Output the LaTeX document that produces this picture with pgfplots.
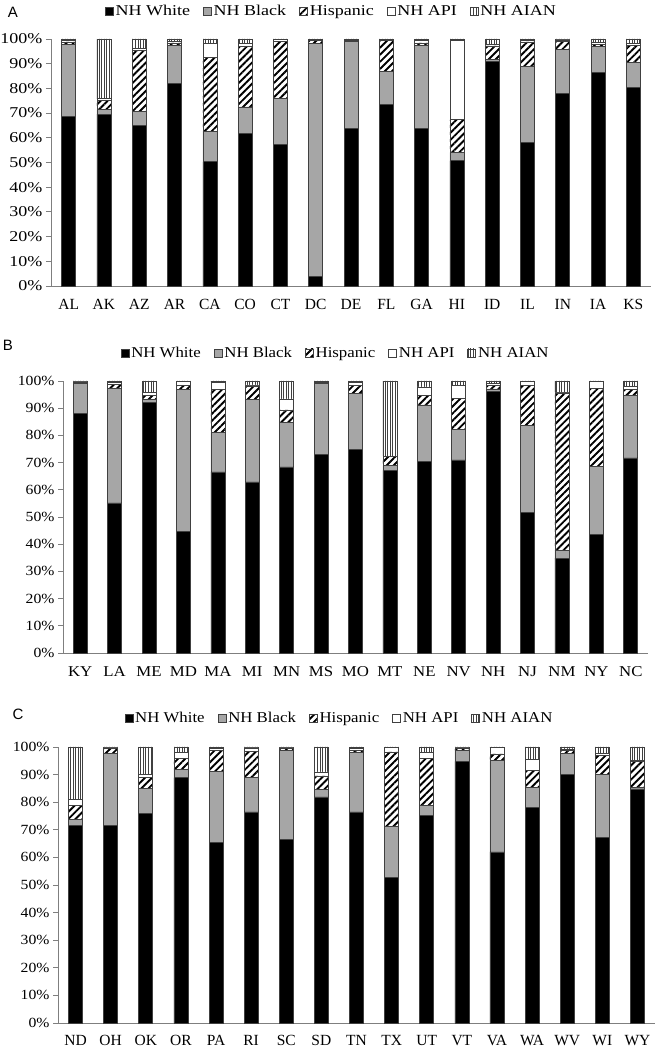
\documentclass[border=0pt]{standalone}
\usepackage{fontspec}
\setmainfont{Liberation Serif}
\newfontfamily\wideA{Liberation Serif}[FakeStretch=1.2]
\newfontfamily\wideB{Liberation Serif}[FakeStretch=1.12]
\newfontfamily\panelfont{Liberation Sans}
\usepackage{pgfplots}
\usepackage{pgfplotstable}
\pgfplotsset{compat=1.18}
\usetikzlibrary{patterns.meta}

\definecolor{bargray}{HTML}{A6A6A6}
\definecolor{edge}{HTML}{404040}
\definecolor{axisgray}{HTML}{7F7F7F}

\pgfplotstableread{
x W B H P I
0 68.6 29.2 1.0 0.5 0.7
1 69.6 1.8 3.6 0.8 24.2
2 64.9 5.7 24.7 0.8 3.9
3 81.9 15.5 1.0 0.6 1.0
4 50.3 12.3 30.0 5.6 1.8
5 61.7 10.8 24.5 1.1 1.9
6 57.2 18.8 22.9 0.8 0.3
7 4.0 94.1 1.2 0.4 0.3
8 63.8 35.1 0.5 0.3 0.3
9 73.5 13.5 12.3 0.4 0.3
10 63.8 33.6 1.0 0.9 0.7
11 50.7 3.4 13.2 32.0 0.7
12 91.0 0.6 5.6 0.6 2.2
13 58.0 30.9 9.9 0.7 0.5
14 77.9 18.0 3.2 0.5 0.4
15 86.6 10.4 0.7 1.0 1.3
16 80.3 10.3 6.7 0.9 1.8
}\dataA

\pgfplotstableread{
x W B H P I
0 88.1 11.0 0.4 0.2 0.3
1 55.2 42.2 1.4 0.6 0.6
2 92.1 1.0 1.5 1.3 4.1
3 44.8 52.1 1.4 1.5 0.2
4 66.6 14.5 15.7 2.8 0.4
5 62.9 30.3 5.0 0.4 1.4
6 68.4 16.4 4.6 4.0 6.6
7 72.9 26.2 0.3 0.2 0.4
8 74.8 20.7 2.9 1.0 0.6
9 67.1 1.8 3.3 0.2 27.6
10 70.3 20.9 3.4 3.2 2.2
11 71.0 11.3 11.4 4.8 1.5
12 96.2 0.9 1.3 0.7 0.9
13 51.8 31.9 14.8 1.3 0.2
14 34.9 2.9 57.8 0.2 4.2
15 43.7 24.9 28.6 2.6 0.2
16 71.7 23.0 2.1 1.1 2.1
}\dataB

\pgfplotstableread{
x W B H P I
0 71.6 2.1 5.1 2.3 18.9
1 71.6 26.2 1.6 0.3 0.3
2 75.9 9.2 3.8 1.1 10.0
3 88.9 3.1 4.0 2.0 2.0
4 65.4 25.8 7.6 0.7 0.5
5 76.5 12.4 9.4 1.4 0.3
6 66.5 32.3 0.7 0.2 0.3
7 81.9 2.8 4.8 1.5 9.0
8 76.5 21.5 0.8 0.6 0.6
9 52.8 18.3 27.1 1.6 0.2
10 75.2 3.5 17.1 2.3 1.9
11 94.8 4.0 0.7 0.2 0.3
12 62.0 33.1 2.4 2.3 0.2
13 78.1 7.3 6.2 3.8 4.6
14 90.0 7.8 1.0 0.5 0.7
15 67.3 22.7 6.9 0.7 2.4
16 84.8 0.5 9.6 0.3 4.8
}\dataC

\pgfplotsset{
  panel/.style={
    scale only axis,
    ybar stacked,
    bar width=14pt,
    xmin=-0.5, xmax=16.5,
    ymin=0, ymax=100,
    axis lines*=left,
    axis line style={draw=axisgray, line width=0.8pt},
    tick style={draw=axisgray, line width=0.8pt},
    tick align=outside,
    major tick length=5pt,
    minor tick length=6pt,
    xtick={0,...,16},
    xtick style={draw=none},
    minor xtick={-0.5,0.5,...,16.5},
    ytick={0,10,...,100},
    yticklabels={0\%,10\%,20\%,30\%,40\%,50\%,60\%,70\%,80\%,90\%,100\%},
    clip=false,
    legend columns=5,
    legend style={draw=none, fill=none, anchor=center,
      /tikz/every even column/.append style={column sep=11pt},
      inner sep=0pt},
    legend cell align=left,
    legend image code/.code={\draw[##1, draw=edge, line width=0.6pt] (0pt,-4pt) rectangle (8pt,4pt);},
  },
  sW/.style={fill=black, draw=edge, line width=0.6pt},
  sB/.style={fill=bargray, draw=edge, line width=0.6pt},
  sH/.style={fill=white, draw=edge, line width=0.6pt,
     postaction={pattern={Lines[angle=45,distance=5pt,line width=1.9pt]}, pattern color=black}},
  sP/.style={fill=white, draw=edge, line width=0.6pt},
  sI/.style={fill=white, draw=edge, line width=0.6pt,
     postaction={pattern={Lines[angle=90,distance=2.6pt,line width=0.6pt]}, pattern color=edge}},
}

\begin{document}
\begin{tikzpicture}
\path[use as bounding box] (0,0) rectangle (661pt,1050pt);

% Panel A
\begin{axis}[panel,
  at={(51pt,764pt)}, anchor=south west,
  width=600pt, height=247pt,
  xticklabels={AL,AK,AZ,AR,CA,CO,CT,DC,DE,FL,GA,HI,ID,IL,IN,IA,KS},
  xticklabel style={font=\fontsize{15.5}{18}\selectfont, yshift=-5pt},
  yticklabel style={font=\wideA\fontsize{15}{17}\selectfont},
  legend style={at={(0.4675,1.113)}, font=\wideA\fontsize{15}{17}\selectfont},
]
\addplot[sW] table[x=x,y=W]{\dataA};
\addplot[sB] table[x=x,y=B]{\dataA};
\addplot[sH] table[x=x,y=H]{\dataA};
\addplot[sP] table[x=x,y=P]{\dataA};
\addplot[sI] table[x=x,y=I]{\dataA};
\legend{NH White,NH Black,Hispanic,NH API,NH AIAN}
\end{axis}

% Panel B
\begin{axis}[panel,
  at={(63pt,397pt)}, anchor=south west,
  width=585pt, height=272pt,
  xticklabels={KY,LA,ME,MD,MA,MI,MN,MS,MO,MT,NE,NV,NH,NJ,NM,NY,NC},
  xticklabel style={font=\wideB\fontsize{15}{18}\selectfont, yshift=-5pt},
  yticklabel style={font=\wideB\fontsize{14}{16}\selectfont},
  legend style={at={(0.466,1.103)}, font=\wideB\fontsize{15}{17}\selectfont},
]
\addplot[sW] table[x=x,y=W]{\dataB};
\addplot[sB] table[x=x,y=B]{\dataB};
\addplot[sH] table[x=x,y=H]{\dataB};
\addplot[sP] table[x=x,y=P]{\dataB};
\addplot[sI] table[x=x,y=I]{\dataB};
\legend{NH White,NH Black,Hispanic,NH API,NH AIAN}
\end{axis}

% Panel C
\begin{axis}[panel,
  at={(58pt,27pt)}, anchor=south west,
  width=597pt, height=276pt,
  xticklabels={ND,OH,OK,OR,PA,RI,SC,SD,TN,TX,UT,VT,VA,WA,WV,WI,WY},
  xticklabel style={font=\fontsize{15.5}{18}\selectfont, yshift=-4pt},
  yticklabel style={font=\wideB\fontsize{14}{16}\selectfont},
  legend style={at={(0.4715,1.105)}, font=\wideB\fontsize{15}{17}\selectfont},
]
\addplot[sW] table[x=x,y=W]{\dataC};
\addplot[sB] table[x=x,y=B]{\dataC};
\addplot[sH] table[x=x,y=H]{\dataC};
\addplot[sP] table[x=x,y=P]{\dataC};
\addplot[sI] table[x=x,y=I]{\dataC};
\legend{NH White,NH Black,Hispanic,NH API,NH AIAN}
\end{axis}

\node[font=\panelfont\fontsize{15}{18}\selectfont] at (13pt,1037.5pt) {A};
\node[font=\panelfont\fontsize{15}{18}\selectfont] at (8pt,705pt) {B};
\node[font=\panelfont\fontsize{15}{18}\selectfont] at (18pt,336pt) {C};
\end{tikzpicture}
\end{document}
